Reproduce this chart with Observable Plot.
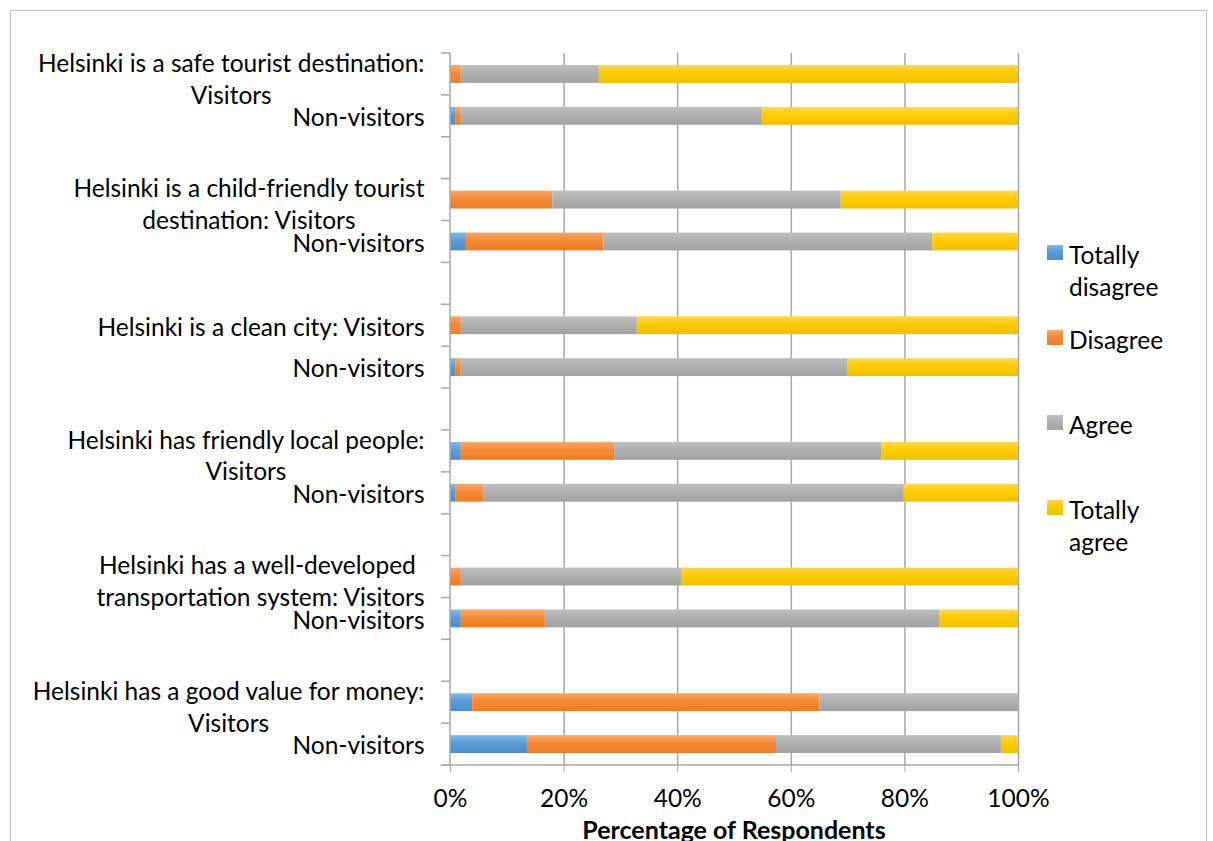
<!DOCTYPE html>
<html>
<head>
<meta charset="utf-8">
<script src="https://cdn.jsdelivr.net/npm/d3@7"></script>
<script src="https://cdn.jsdelivr.net/npm/@observablehq/plot@0.6"></script>
<style>
  html, body { margin: 0; padding: 0; background: #fff; overflow: hidden; width: 1213px; height: 841px; }
  #frame { position: absolute; left: 10px; top: 10px; width: 1197px; height: 840px; border: 1px solid #bfbfbf; border-bottom: none; box-sizing: border-box; }
  #chart { position: absolute; left: 10px; top: 10px; }
  #chart svg { overflow: visible; }
  .leg { position: absolute; left: 1047px; font-family: Lato, sans-serif; font-size: 24.5px; line-height: 32px; color: #000; }
  .leg .sw { position: absolute; left: 0; top: 6px; width: 16px; height: 15px; }
  .leg .tx { position: absolute; left: 22px; top: 0; white-space: nowrap; }
  #xtitle { position: absolute; left: 534px; width: 400px; top: 813px; text-align: center; font-family: Lato, sans-serif; font-weight: bold; font-size: 25px; line-height: 32px; white-space: nowrap; }
</style>
</head>
<body>
<div id="frame"></div>
<div id="chart"></div>
<div id="legend"></div>
<div id="xtitle">Percentage of Respondents</div>
<script>
// ---- data ----
const series = ["Totally disagree", "Disagree", "Agree", "Totally agree"];
const rowIds = ["safe V", "safe N", "gap 1", "child V", "child N", "gap 2", "clean V", "clean N", "gap 3",
                "friendly V", "friendly N", "gap 4", "transport V", "transport N", "gap 5", "value V", "value N"];
const rowLabels = [
  "Helsinki is a safe tourist destination:\nVisitors", "Non-visitors", "",
  "Helsinki is a child-friendly tourist\ndestination: Visitors", "Non-visitors", "",
  "Helsinki is a clean city: Visitors", "Non-visitors", "",
  "Helsinki has friendly local people:\nVisitors", "Non-visitors", "",
  "Helsinki has a well-developed \ntransportation system: Visitors", "Non-visitors", "",
  "Helsinki has a good value for money:\nVisitors", "Non-visitors"
];
const barRows = ["safe V", "safe N", "child V", "child N", "clean V", "clean N",
                 "friendly V", "friendly N", "transport V", "transport N", "value V", "value N"];
const totallyDisagree = [0, 0.9, 0, 2.8, 0, 0.9, 1.9, 0.9, 0, 1.9, 3.9, 13.7];
const disagree        = [1.9, 1.0, 18.0, 24.2, 1.9, 1.0, 27.0, 4.9, 1.9, 14.8, 61.1, 43.7];
const agree           = [24.3, 53.0, 50.8, 57.9, 31.0, 68.0, 47.0, 74.1, 38.9, 69.4, 35.0, 39.6];
const totallyAgree    = [73.8, 45.1, 31.2, 15.1, 67.1, 30.1, 24.1, 20.1, 59.2, 13.9, 0, 3.0];
const xTicks = [0, 20, 40, 60, 80, 100];
const gridTicks = [20, 40, 60, 80, 100];

// ---- styling ----
const gradients = {
  "Totally disagree": ["gTD", "#82bbe9", "#5b9bd5", "#4a8ecb"],
  "Disagree":         ["gD",  "#f9a76d", "#f58a35", "#ee7c22"],
  "Agree":            ["gA",  "#bfbfbf", "#b0b0b0", "#a2a2a2"],
  "Totally agree":    ["gTA", "#ffd653", "#ffcc00", "#f0c000"]
};

const valuesBySeries = [totallyDisagree, disagree, agree, totallyAgree];
const data = [];
barRows.forEach((r, i) => {
  series.forEach((s, j) => data.push({row: r, response: s, value: valuesBySeries[j][i]}));
});
const labelData = rowIds.map((id, i) => ({row: id, label: rowLabels[i]})).filter(d => d.label);
const multiLabels = labelData.filter(d => d.label.includes("\n"));
const singleLabels = labelData.filter(d => !d.label.includes("\n"));

const chart = Plot.plot({
  width: 1030,
  height: 800,
  marginLeft: 440,
  marginRight: 22,
  marginTop: 43,
  marginBottom: 45,
  style: {fontFamily: "Lato, sans-serif", fontSize: "24.5px", color: "#000", background: "transparent"},
  x: {domain: [0, 100], axis: null},
  y: {domain: rowIds, padding: 0, round: false, axis: null},
  color: {type: "ordinal", domain: series, range: series.map(s => `url(#${gradients[s][0]})`)},
  marks: [
    Plot.ruleX(gridTicks, {stroke: "#a8a8a8", strokeWidth: 1.5}),
    Plot.barX(data, {x: "value", y: "row", fill: "response", insetTop: 12, insetBottom: 12, order: series}),
    Plot.axisX(xTicks, {anchor: "bottom", tickSize: 7, tickPadding: 17, stroke: "#a8a8a8", fill: "#000",
                        fontSize: 24.5, tickFormat: d => d + "%", label: null}),
    Plot.text(multiLabels, {y: "row", text: "label", frameAnchor: "left", dx: -26, dy: 3,
                            textAnchor: "end", lineAnchor: "middle", lineHeight: 1.3, fontSize: 24.5, fill: "#000"}),
    Plot.text(singleLabels, {y: "row", text: "label", frameAnchor: "left", dx: -26, dy: 2,
                             textAnchor: "end", lineAnchor: "middle", fontSize: 24.5, fill: "#000"})
  ]
});
document.getElementById("chart").append(chart);

// gradients
const svg = d3.select(chart);
const defs = svg.insert("defs", ":first-child");
Object.values(gradients).forEach(([id, c0, c1, c2]) => {
  const lg = defs.append("linearGradient").attr("id", id).attr("x1", 0).attr("y1", 0).attr("x2", 0).attr("y2", 1);
  lg.append("stop").attr("offset", "0%").attr("stop-color", c0);
  lg.append("stop").attr("offset", "45%").attr("stop-color", c1);
  lg.append("stop").attr("offset", "100%").attr("stop-color", c2);
});

// axis lines and category boundary ticks from the chart's own scales
const xs = chart.scale("x"), ys = chart.scale("y");
const x0 = xs.apply(0), x1 = xs.apply(100);
const bounds = rowIds.map(id => ys.apply(id));
bounds.push(ys.apply(rowIds[rowIds.length - 1]) + ys.bandwidth);
const yTop = bounds[0], yBot = bounds[bounds.length - 1];
const ax = svg.append("g").attr("stroke", "#a8a8a8").attr("stroke-width", 1.5);
ax.append("line").attr("x1", x0).attr("x2", x0).attr("y1", yTop).attr("y2", yBot);
ax.append("line").attr("x1", x0 - 9).attr("x2", x1).attr("y1", yBot).attr("y2", yBot);
bounds.forEach(b => ax.append("line").attr("x1", x0 - 9).attr("x2", x0).attr("y1", b).attr("y2", b));

// center multi-line category labels (Excel style: lines centered, block right-aligned)
svg.selectAll('g[aria-label="text"] text').each(function () {
  const tspans = Array.from(this.querySelectorAll("tspan"));
  if (tspans.length > 1) {
    const W = d3.max(tspans, t => t.getComputedTextLength());
    this.setAttribute("text-anchor", "middle");
    tspans.forEach(t => {
      const cx = parseFloat(t.getAttribute("x") || 0);
      t.setAttribute("x", cx - W / 2);
    });
  }
});

// legend
const legendItems = [
  ["Totally disagree", "Totally<br>disagree"],
  ["Disagree", "Disagree"],
  ["Agree", "Agree"],
  ["Totally agree", "Totally<br>agree"]
];
const leg = document.getElementById("legend");
legendItems.forEach(([s, html], i) => {
  const g = gradients[s];
  const div = document.createElement("div");
  div.className = "leg";
  div.style.top = (239 + i * 85) + "px";
  div.innerHTML = `<div class="sw" style="background:linear-gradient(${g[1]},${g[2]} 45%,${g[3]})"></div><div class="tx">${html}</div>`;
  leg.append(div);
});
</script>
</body>
</html>
